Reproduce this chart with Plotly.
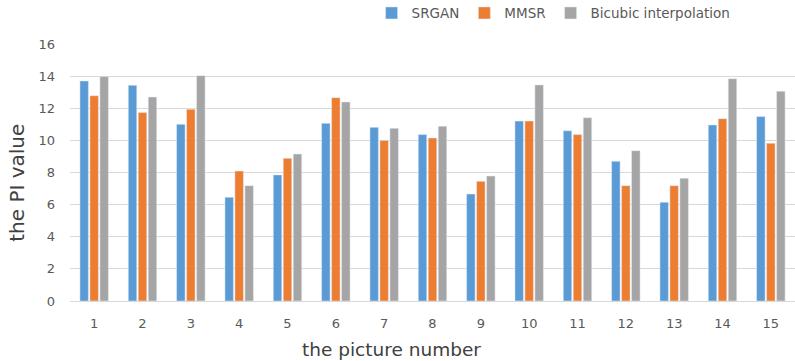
import plotly.graph_objects as go

categories = [str(i) for i in range(1, 16)]
srgan = [13.7, 13.43, 11.0, 6.46, 7.85, 11.06, 10.81, 10.36, 6.66, 11.2, 10.6, 8.7, 6.15, 10.96, 11.48]
mmsr = [12.78, 11.73, 11.94, 8.09, 8.88, 12.66, 10.0, 10.15, 7.45, 11.2, 10.36, 7.18, 7.18, 11.35, 9.82]
bicubic = [13.97, 12.70, 14.03, 7.18, 9.15, 12.39, 10.75, 10.88, 7.78, 13.45, 11.41, 9.36, 7.64, 13.84, 13.06]
y_ticks = [0, 2, 4, 6, 8, 10, 12, 14, 16]

font = "DejaVu Sans"
gray_text = "#595959"

fig = go.Figure()
fig.add_trace(go.Bar(x=categories, y=srgan, name="SRGAN", marker_color="#5B9BD5"))
fig.add_trace(go.Bar(x=categories, y=mmsr, name="MMSR", marker_color="#ED7D31"))
fig.add_trace(go.Bar(x=categories, y=bicubic, name="Bicubic interpolation", marker_color="#A5A5A5"))

fig.update_layout(
    width=795, height=361,
    margin=dict(l=70, r=0, t=44, b=60, autoexpand=False),
    paper_bgcolor="white", plot_bgcolor="white",
    barmode="group", bargap=0.38, bargroupgap=0.15,
    font=dict(family=font, color=gray_text, size=13),
    legend=dict(orientation="h", x=0.416, xanchor="left", y=1.12, yanchor="middle",
                font=dict(size=13.5, color=gray_text), itemwidth=30, traceorder="normal"),
    xaxis=dict(
        tickfont=dict(size=13, color=gray_text),
        showline=True, linecolor="#d9d9d9", linewidth=1, ticks="",
        ticklabelstandoff=10, automargin=False,
    ),
    yaxis=dict(
        range=[0, 16], tickvals=y_ticks,
        tickfont=dict(size=13, color=gray_text),
        showgrid=True, gridcolor="#d9d9d9", gridwidth=1, zeroline=False,
        ticks="", ticklabelstandoff=14, automargin=False,
    ),
    annotations=[
        dict(text="the PI value", xref="paper", yref="paper", x=0, y=0.46,
             xshift=-53, xanchor="center", yanchor="middle", textangle=-90,
             showarrow=False, font=dict(size=20, color="#404040")),
        dict(text="the picture number", xref="paper", yref="paper", x=0.443, y=0,
             yshift=-48, xanchor="center", yanchor="middle",
             showarrow=False, font=dict(size=18.5, color="#404040")),
    ],
)

fig.write_html("out.html", config={"displayModeBar": False},
               post_script="document.body.style.margin='0';document.body.style.overflow='hidden';")
